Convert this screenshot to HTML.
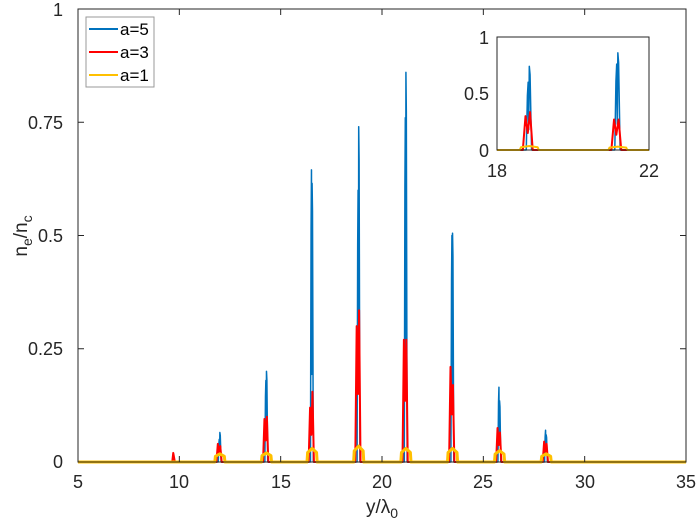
<!DOCTYPE html>
<html><head><meta charset="utf-8"><style>
body{margin:0;background:#fff;}
svg{display:block;font-family:"Liberation Sans",sans-serif;}
</style></head><body>
<svg id="s" width="700" height="529" xmlns="http://www.w3.org/2000/svg">
<rect width="700" height="529" fill="#fff"/>
<g id="main"></g>
<rect x="78" y="9" width="608" height="453" fill="none" stroke="#262626" stroke-width="1"/>
<g id="ticks" stroke="#262626" stroke-width="1"></g>
<g font-size="18" fill="#262626" text-anchor="middle">
<text x="78" y="488">5</text><text x="179" y="488">10</text><text x="281" y="488">15</text><text x="382" y="488">20</text><text x="483" y="488">25</text><text x="585" y="488">30</text><text x="686" y="488">35</text>
</g>
<g font-size="18" fill="#262626" text-anchor="end">
<text x="63" y="468">0</text><text x="63" y="355">0.25</text><text x="63" y="242">0.5</text><text x="63" y="129">0.75</text><text x="63" y="16">1</text>
</g>
<text x="382" y="513" font-size="19" fill="#262626" text-anchor="middle">y/λ<tspan font-size="14" dy="5">0</tspan></text>
<text transform="translate(27,236) rotate(-90)" font-size="19" fill="#262626" text-anchor="middle">n<tspan font-size="14" dy="5">e</tspan><tspan dy="-5">/n</tspan><tspan font-size="14" dy="5">c</tspan></text>
<rect x="86" y="17" width="68" height="70" fill="#fff" stroke="#999" stroke-width="1"/>
<g stroke-width="2"><line x1="89" y1="29" x2="118" y2="29" stroke="#0072BD"/><line x1="89" y1="52" x2="118" y2="52" stroke="#FF0000"/><line x1="89" y1="75" x2="118" y2="75" stroke="#FFC000"/></g>
<g font-size="17" fill="#000"><text x="120" y="35">a=5</text><text x="120" y="58">a=3</text><text x="120" y="81">a=1</text></g>
<rect x="497" y="37" width="152" height="113" fill="#fff"/>
<g id="inset"></g>
<rect x="497" y="37" width="152" height="113" fill="none" stroke="#262626" stroke-width="1"/>
<g font-size="18" fill="#262626" text-anchor="end"><text x="489" y="157">0</text><text x="489" y="100">0.5</text><text x="489" y="44">1</text></g>
<g font-size="18" fill="#262626" text-anchor="middle"><text x="497" y="177">18</text><text x="649" y="177">22</text></g>
</svg>
<script>
var peaks=[
 {c:12.0,b:[0.05,0.065],r:[0.04,0.035],y:0.018},
 {c:14.3,b:[0.18,0.2],r:[0.095,0.1],y:0.02},
 {c:16.55,b:[0.645,0.615],r:[0.12,0.155],y:0.03},
 {c:18.85,b:[0.6,0.74],r:[0.3,0.335],y:0.035},
 {c:21.18,b:[0.76,0.86],r:[0.27,0.27],y:0.03},
 {c:23.48,b:[0.5,0.505],r:[0.21,0.17],y:0.03},
 {c:25.8,b:[0.165,0.135],r:[0.075,0.065],y:0.025},
 {c:28.1,b:[0.07,0.06],r:[0.045,0.04],y:0.018}];
function build(g,X,Y,x0,x1,thick){
 var ns="http://www.w3.org/2000/svg";
 function path(d,col,w){var p=document.createElementNS(ns,"path");p.setAttribute("d",d);p.setAttribute("stroke",col);p.setAttribute("stroke-width",w);p.setAttribute("fill","none");p.setAttribute("stroke-linejoin","round");g.appendChild(p);}
 var db="M"+X(x0)+","+Y(0),dr=db,dy=db;
 peaks.forEach(function(p){
  var c=p.c;
  db+=" L"+X(c-0.08)+","+Y(0)+" L"+X(c-0.05)+","+Y(p.b[0]*0.8)+" L"+X(c-0.03)+","+Y(p.b[0])+" L"+X(c-0.015)+","+Y(p.b[0]*0.3)+" L"+X(c)+","+Y(p.b[1])+" L"+X(c+0.02)+","+Y(p.b[1]*0.9)+" L"+X(c+0.06)+","+Y(0);
  dr+=" L"+X(c-0.17)+","+Y(0)+" L"+X(c-0.1)+","+Y(p.r[0])+" L"+X(c-0.04)+","+Y(p.r[0]*0.5)+" L"+X(c+0.02)+","+Y(p.r[1])+" L"+X(c+0.09)+","+Y(0);
  dy+=" L"+X(c-0.25)+","+Y(0)+" L"+X(c-0.22)+","+Y(p.y*0.7)+" L"+X(c)+","+Y(p.y)+" L"+X(c+0.22)+","+Y(p.y*0.7)+" L"+X(c+0.25)+","+Y(0);
 });
 dr=dr.replace("M"+X(x0)+","+Y(0),"M"+X(x0)+","+Y(0)+" L"+X(9.65)+","+Y(0)+" L"+X(9.7)+","+Y(0.02)+" L"+X(9.78)+","+Y(0));
 db+=" L"+X(x1)+","+Y(0);dr+=" L"+X(x1)+","+Y(0);dy+=" L"+X(x1)+","+Y(0);
 path(db,"#0072BD",1.5);path(dr,"#FF0000",2);path(dy,"#FFC000",thick);
}
build(document.getElementById("main"),function(v){return 78+(v-5)*20.267},function(v){return 462-v*453},5,35,3);
var ig=document.getElementById("inset");
var cp=document.createElementNS("http://www.w3.org/2000/svg","clipPath");cp.id="cl";
var cr=document.createElementNS("http://www.w3.org/2000/svg","rect");cr.setAttribute("x",497);cr.setAttribute("y",37);cr.setAttribute("width",152);cr.setAttribute("height",114);cp.appendChild(cr);ig.appendChild(cp);
var ig2=document.createElementNS("http://www.w3.org/2000/svg","g");ig2.setAttribute("clip-path","url(#cl)");ig.appendChild(ig2);
build(ig2,function(v){return 497+(v-18)*38},function(v){return 150-v*113},18,22,2);
var t=document.getElementById("ticks"),s="";
[5,10,15,20,25,30,35].forEach(function(v){var x=78+(v-5)*20.267;s+='<line x1="'+x+'" y1="462" x2="'+x+'" y2="456"/><line x1="'+x+'" y1="9" x2="'+x+'" y2="15"/>';});
[0,0.25,0.5,0.75,1].forEach(function(v){var y=462-v*453;s+='<line x1="78" y1="'+y+'" x2="84" y2="'+y+'"/><line x1="686" y1="'+y+'" x2="680" y2="'+y+'"/>';});
t.innerHTML=s;
</script>
</body></html>
